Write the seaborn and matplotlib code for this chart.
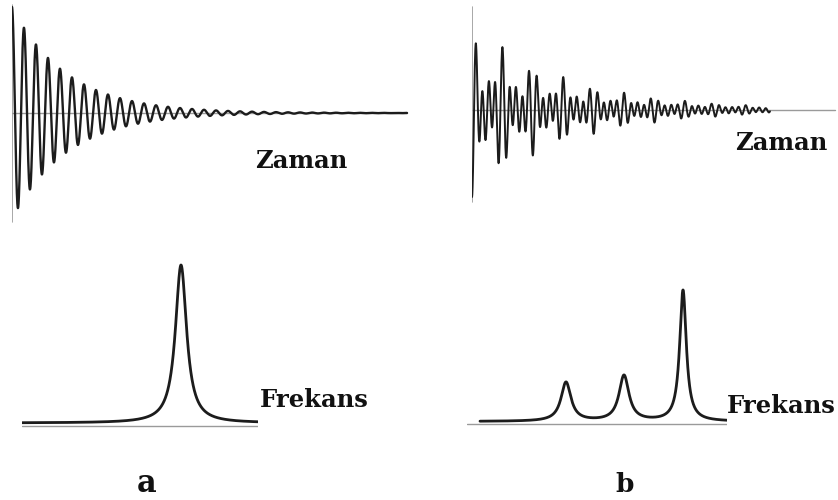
import numpy as np
import pandas as pd
import matplotlib
matplotlib.use("Agg")
import matplotlib.pyplot as plt
import seaborn as sns

# ---------------- data ----------------
# (a) single resonance: FID parameters (time in px-like units, amplitude)
fid_a_freq = [0.0833]        # cycles per time unit
fid_a_amp = [106.0]
fid_a_decay = [55.0]
fid_a_tmax = 395

# (a) spectrum: one Lorentzian line
spec_a_center = [159.0]
spec_a_height = [158.0]
spec_a_hwhm = [6.8]
spec_a_offset = 3.0
spec_a_fmax = 236

# (b) three resonances: FID parameters
fid_b_freq = [0.082, 0.115, 0.148]
fid_b_amp = [20.0, 25.0, 42.0]
fid_b_decay = [85.0, 85.0, 105.0]
fid_b_phase = [np.pi, np.pi, np.pi]
fid_b_tmax = 298          # acquisition ends here, baseline continues
fid_b_axis_len = 363

# (b) spectrum: three Lorentzian lines
spec_b_center = [99.0, 157.0, 216.0]
spec_b_height = [39.0, 45.6, 131.0]
spec_b_hwhm = [6.0, 6.0, 4.0]
spec_b_offset = 2.5
spec_b_fmin, spec_b_fmax = 13, 260

labels_time = "Zaman"
labels_freq = "Frekans"
panel_labels = ["a", "b"]

# ---------------- figure ----------------
sns.set_theme(style="white")
plt.rcParams["font.family"] = ["DejaVu Serif", "DejaVu Sans"]

W, H = 838, 500
fig = plt.figure(figsize=(W / 100, H / 100), dpi=100)
fig.patch.set_facecolor("white")


def px_axes(x0, x1, y0, y1):
    """axes from pixel box (y measured from top)."""
    ax = fig.add_axes([x0 / W, 1 - y1 / H, (x1 - x0) / W, (y1 - y0) / H])
    ax.set_axis_off()
    return ax


line_col = "#1c1c1c"
axis_col = "#9a9a9a"


def fid(t, freqs, amps, decays, phases=None):
    if phases is None:
        phases = [0.0] * len(freqs)
    s = np.zeros_like(t)
    for f, a, d, p in zip(freqs, amps, decays, phases):
        s += a * np.exp(-t / d) * np.cos(2 * np.pi * f * t + p)
    return s


def lorentz(f, centers, heights, hwhms, offset):
    s = np.full_like(f, offset)
    for c, h, g in zip(centers, heights, hwhms):
        s += h * g ** 2 / ((f - c) ** 2 + g ** 2)
    return s


# ---- top-left FID ----
ax = px_axes(12, 412, 0, 226)
ax.set_xlim(0, 400)
ax.set_ylim(-113, 113)
t = np.linspace(0, fid_a_tmax, 6000)
df = pd.DataFrame({"t": t, "s": fid(t, fid_a_freq, fid_a_amp, fid_a_decay)})
ax.axhline(0, xmin=0, xmax=fid_a_tmax / 400, color=axis_col, lw=1.0)
ax.axvline(0, ymin=(113 - 109) / 226, ymax=(113 + 108) / 226, color=axis_col, lw=1.2)
sns.lineplot(data=df, x="t", y="s", ax=ax, color=line_col, lw=1.7,
             estimator=None, sort=False)
ax.set_axis_off()

# ---- top-right FID ----
ax = px_axes(472, 838, 0, 220)
ax.set_xlim(0, 366)
ax.set_ylim(-110, 110)
t = np.linspace(0, fid_b_tmax, 6000)
df = pd.DataFrame({"t": t, "s": fid(t, fid_b_freq, fid_b_amp, fid_b_decay, fid_b_phase)})
ax.axhline(0, xmin=0, xmax=fid_b_axis_len / 366, color=axis_col, lw=1.0)
ax.axvline(0, ymin=(110 - 92) / 220, ymax=(110 + 103) / 220, color=axis_col, lw=1.2)
sns.lineplot(data=df, x="t", y="s", ax=ax, color=line_col, lw=1.4,
             estimator=None, sort=False)
ax.set_axis_off()

# ---- bottom-left spectrum ----
ax = px_axes(22, 258, 250, 430)
ax.set_xlim(0, spec_a_fmax)
ax.set_ylim(-4, 176)
f = np.linspace(0, spec_a_fmax, 3000)
df = pd.DataFrame({"f": f, "s": lorentz(f, spec_a_center, spec_a_height, spec_a_hwhm, spec_a_offset)})
ax.axhline(0, color=axis_col, lw=1.0)
sns.lineplot(data=df, x="f", y="s", ax=ax, color=line_col, lw=2.0,
             estimator=None, sort=False)
ax.set_axis_off()

# ---- bottom-right spectrum ----
ax = px_axes(467, 727, 270, 428)
ax.set_xlim(0, 260)
ax.set_ylim(-4, 154)
f = np.linspace(spec_b_fmin, spec_b_fmax, 3000)
df = pd.DataFrame({"f": f, "s": lorentz(f, spec_b_center, spec_b_height, spec_b_hwhm, spec_b_offset)})
ax.axhline(0, color=axis_col, lw=1.0)
sns.lineplot(data=df, x="f", y="s", ax=ax, color=line_col, lw=2.0,
             estimator=None, sort=False)
ax.set_axis_off()

# ---- texts ----
def ptext(x, y, s, size):
    fig.text(x / W, 1 - y / H, s, ha="left", va="baseline",
             fontsize=size, fontweight="bold", color="#111111",
             family=["DejaVu Serif", "DejaVu Sans"])

ptext(255, 168, labels_time, 17.5)
ptext(735, 150, labels_time, 17.5)
ptext(260, 407, labels_freq, 17.5)
ptext(727, 413, labels_freq, 17.5)
ptext(137, 492, panel_labels[0], 22)
ptext(615, 492, panel_labels[1], 19)

fig.savefig("out.png", dpi=100, facecolor="white")
